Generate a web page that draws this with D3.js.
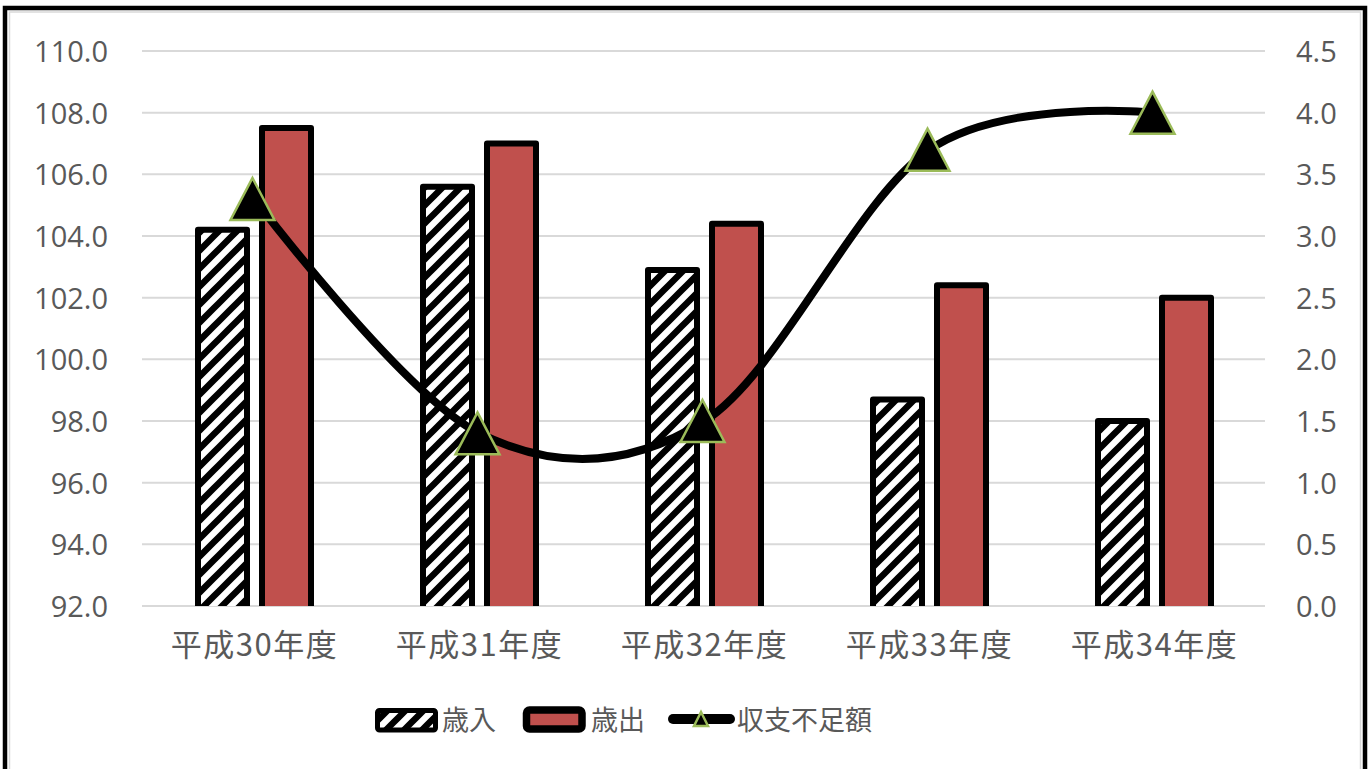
<!DOCTYPE html>
<html>
<head>
<meta charset="utf-8">
<script src="https://cdn.jsdelivr.net/npm/d3@7"></script>
<style>
  body { margin: 0; background: #fff; }
  svg { display: block; }
  .tick-num { font-family: "Open Sans", "Liberation Sans", sans-serif; fill: #595959; }
  .cjk { font-family: "Noto Sans CJK JP", "Noto Sans", sans-serif; fill: #595959; }
</style>
</head>
<body>
<svg id="chart" width="1370" height="769"></svg>
<script>
// data
const categories = ["平成30年度", "平成31年度", "平成32年度", "平成33年度", "平成34年度"];
const revenue = [104.2, 105.6, 102.9, 98.7, 98.0];      // 歳入
const expenditure = [107.5, 107.0, 104.4, 102.4, 102.0]; // 歳出
const shortfall = [3.3, 1.4, 1.5, 3.7, 4.0];             // 収支不足額
const seriesNames = ["歳入", "歳出", "収支不足額"];
const leftDomain = [92, 110];
const rightDomain = [0, 4.5];

const svg = d3.select("#chart");
const W = 1370, H = 769;
const plot = { left: 142, right: 1267, top: 51, bottom: 606 };

// frame
svg.append("rect")
    .attr("x", 5).attr("y", 8)
    .attr("width", W - 10).attr("height", H + 20)
    .attr("fill", "#fff").attr("stroke", "#000").attr("stroke-width", 4.5);
svg.append("rect")
    .attr("x", 9.5).attr("y", 12)
    .attr("width", W - 19).attr("height", H + 20)
    .attr("fill", "none").attr("stroke", "#d9d9d9").attr("stroke-width", 1.5);

// hatch pattern
const defs = svg.append("defs");
const pat = defs.append("pattern")
    .attr("id", "hatch")
    .attr("patternUnits", "userSpaceOnUse")
    .attr("width", 18).attr("height", 18);
pat.append("rect").attr("width", 18).attr("height", 18).attr("fill", "#fff");
pat.append("path")
    .attr("d", "M-4.5,4.5 l9,-9 M0,18 l18,-18 M13.5,22.5 l9,-9")
    .attr("stroke", "#000").attr("stroke-width", 6.5);

defs.append("clipPath").attr("id", "plotclip")
  .append("rect")
    .attr("x", 0).attr("y", 0)
    .attr("width", W).attr("height", plot.bottom);

// scales
const x0 = d3.scaleBand().domain(categories).range([plot.left, plot.right]);
const x1 = d3.scaleBand().domain(["歳入", "歳出"]).range([-56.5, 56.5]).paddingInner(15 / 64);
const yL = d3.scaleLinear().domain(leftDomain).range([plot.bottom, plot.top]);
const yR = d3.scaleLinear().domain(rightDomain).range([plot.bottom, plot.top]);
const cx = c => x0(c) + x0.bandwidth() / 2;

// gridlines
const leftTicks = yL.ticks(9);
svg.append("g").selectAll("line")
  .data(leftTicks)
  .join("line")
    .attr("x1", plot.left).attr("x2", plot.right - 2)
    .attr("y1", d => yL(d)).attr("y2", d => yL(d))
    .attr("stroke", "#d9d9d9").attr("stroke-width", 2);

// left axis
const axL = svg.append("g")
    .attr("transform", `translate(${plot.left},0)`)
    .call(d3.axisLeft(yL).tickValues(leftTicks).tickFormat(d3.format(".1f")).tickSize(0).tickPadding(34));
axL.select(".domain").remove();
axL.selectAll("text").attr("class", "tick-num").attr("font-size", 29).attr("dy", "0.36em");

// right axis
const axR = svg.append("g")
    .attr("transform", `translate(${plot.right},0)`)
    .call(d3.axisRight(yR).ticks(9).tickFormat(d3.format(".1f")).tickSize(0).tickPadding(29));
axR.select(".domain").remove();
axR.selectAll("text").attr("class", "tick-num").attr("font-size", 29).attr("dy", "0.36em");

// category labels
const axB = svg.append("g")
    .attr("transform", `translate(0,${plot.bottom})`)
    .call(d3.axisBottom(x0).tickSize(0).tickPadding(28));
axB.select(".domain").remove();
axB.selectAll("text").attr("class", "cjk").attr("font-size", 31).attr("letter-spacing", 1.5);

// bars
const bars = svg.append("g").attr("clip-path", "url(#plotclip)");
const barData = categories.flatMap((c, i) => [
  { c, key: "歳入", v: revenue[i] },
  { c, key: "歳出", v: expenditure[i] }
]);
bars.selectAll("rect")
  .data(barData)
  .join("rect")
    .attr("x", d => cx(d.c) + x1(d.key))
    .attr("width", x1.bandwidth())
    .attr("y", d => yL(d.v))
    .attr("height", d => yL(leftDomain[0]) - yL(d.v) + 6)
    .attr("fill", d => d.key === "歳入" ? "url(#hatch)" : "#c0504d")
    .attr("stroke", "#000").attr("stroke-width", 6)
    .attr("stroke-linejoin", "round");

// shortfall line
const pts = categories.map((c, i) => [cx(c), yR(shortfall[i])]);
svg.append("path")
    .datum(pts)
    .attr("d", d3.line().curve(d3.curveCardinal.tension(0)))
    .attr("fill", "none").attr("stroke", "#000").attr("stroke-width", 8)
    .attr("stroke-linecap", "round");

const tri = (s, h) => `M0,${-h}L${s},${h}L${-s},${h}Z`;
svg.append("g").selectAll("path")
  .data(pts)
  .join("path")
    .attr("transform", d => `translate(${d[0] - 2},${d[1]})`)
    .attr("d", tri(22, 21))
    .attr("fill", "#000").attr("stroke", "#9bbb59").attr("stroke-width", 2.5)
    .attr("stroke-linejoin", "miter");

// legend
const lg = svg.append("g");
const ly = 720;
lg.append("rect")
    .attr("x", 377.5).attr("y", 710.5).attr("width", 58).attr("height", 19.5)
    .attr("rx", 2).attr("fill", "url(#hatch)")
    .attr("stroke", "#000").attr("stroke-width", 5);
lg.append("text").attr("class", "cjk").attr("font-size", 27)
    .attr("x", 442).attr("y", ly).attr("dy", "0.36em").text(seriesNames[0]);

lg.append("rect")
    .attr("x", 526.5).attr("y", 710).attr("width", 55.5).attr("height", 19)
    .attr("rx", 3).attr("fill", "#c0504d")
    .attr("stroke", "#000").attr("stroke-width", 7.5);
lg.append("text").attr("class", "cjk").attr("font-size", 27)
    .attr("x", 591).attr("y", ly).attr("dy", "0.36em").text(seriesNames[1]);

lg.append("line")
    .attr("x1", 673).attr("x2", 730).attr("y1", ly - 1).attr("y2", ly - 1)
    .attr("stroke", "#000").attr("stroke-width", 10).attr("stroke-linecap", "round");
lg.append("path")
    .attr("transform", `translate(701,${ly - 1})`)
    .attr("d", tri(7, 7))
    .attr("fill", "#000").attr("stroke", "#9bbb59").attr("stroke-width", 2.5);
lg.append("text").attr("class", "cjk").attr("font-size", 27)
    .attr("x", 737).attr("y", ly).attr("dy", "0.36em").text(seriesNames[2]);
</script>
</body>
</html>
